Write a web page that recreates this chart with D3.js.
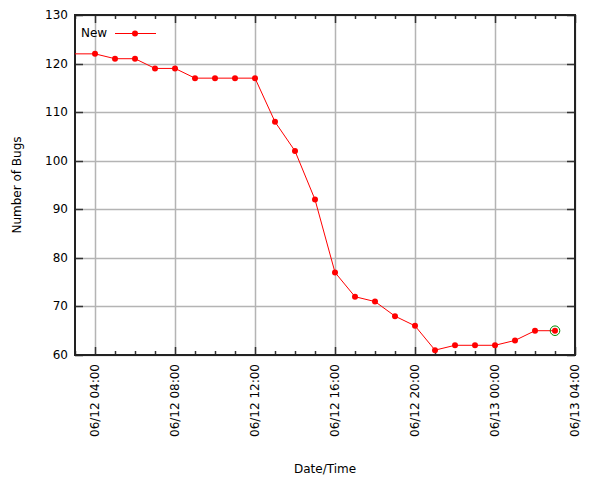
<!DOCTYPE html>
<html>
<head>
<meta charset="utf-8">
<script src="https://cdn.jsdelivr.net/npm/d3@7"></script>
<style>
  body { margin: 0; background: #fff; }
  text { font-family: "DejaVu Sans", sans-serif; font-size: 12px; fill: #000; }
</style>
</head>
<body>
<div id="chart"></div>
<script>
// data: hourly counts of "New" bugs
var times = ["06/12 02:00", "06/12 03:00", "06/12 04:00", "06/12 05:00", "06/12 06:00", "06/12 07:00",
             "06/12 08:00", "06/12 09:00", "06/12 10:00", "06/12 11:00", "06/12 12:00",
             "06/12 13:00", "06/12 14:00", "06/12 15:00", "06/12 16:00", "06/12 17:00",
             "06/12 18:00", "06/12 19:00", "06/12 20:00", "06/12 21:00", "06/12 22:00",
             "06/12 23:00", "06/13 00:00", "06/13 01:00", "06/13 02:00", "06/13 03:00"];
var newBugs = [122, 122, 122, 121, 121, 119, 119, 117, 117, 117, 117, 108, 102, 92, 77, 72,
               71, 68, 66, 61, 62, 62, 62, 63, 65, 65];
var xDomain = ["06/12 03:00", "06/13 04:00"];
var yTicks = [60, 70, 80, 90, 100, 110, 120, 130];
var seriesName = "New";

var WIDTH = 600, HEIGHT = 480;
var margin = { left: 75, right: 25, top: 15, bottom: 125 };

var parse = d3.timeParse("%m/%d %H:%M");
var fmt = d3.timeFormat("%m/%d %H:%M");

var data = times.map(function(t, i){ return { t: parse(t), v: newBugs[i] }; });

var svg = d3.select("#chart").append("svg")
    .attr("width", WIDTH)
    .attr("height", HEIGHT);

var x = d3.scaleTime()
    .domain(xDomain.map(parse))
    .range([margin.left, WIDTH - margin.right]);
var y = d3.scaleLinear()
    .domain([60, 130])
    .range([HEIGHT - margin.bottom, margin.top]);

var majorTicks = x.ticks(d3.timeHour.every(4)).filter(function(d){ return d.getHours() % 4 === 0; });
var minorTicks = x.ticks(d3.timeHour.every(1));

var x0 = x.range()[0], x1 = x.range()[1], yb = y.range()[0], yt = y.range()[1];

// grid
var grid = svg.append("g").attr("stroke", "#b4b4b4").attr("stroke-width", 1.5);
grid.selectAll(".gx").data(majorTicks).enter().append("line")
    .attr("x1", function(d){ return Math.round(x(d)) + 0.5; })
    .attr("x2", function(d){ return Math.round(x(d)) + 0.5; })
    .attr("y1", yt).attr("y2", yb);
grid.selectAll(".gy").data(yTicks).enter().append("line")
    .attr("x1", x0).attr("x2", x1)
    .attr("y1", function(d){ return Math.round(y(d)) + 0.5; })
    .attr("y2", function(d){ return Math.round(y(d)) + 0.5; });

// ticks on all four sides
var ticks = svg.append("g").attr("stroke", "#333").attr("stroke-width", 1.5);
minorTicks.forEach(function(d){
    var big = d.getHours() % 4 === 0, len = big ? 8 : 4, px = Math.round(x(d)) + 0.5;
    ticks.append("line").attr("x1", px).attr("x2", px).attr("y1", yb).attr("y2", yb - len);
    ticks.append("line").attr("x1", px).attr("x2", px).attr("y1", yt).attr("y2", yt + len);
});
yTicks.forEach(function(d){
    var py = Math.round(y(d)) + 0.5;
    ticks.append("line").attr("x1", x0).attr("x2", x0 + 8).attr("y1", py).attr("y2", py);
    ticks.append("line").attr("x1", x1).attr("x2", x1 - 8).attr("y1", py).attr("y2", py);
});

// frame
svg.append("rect")
    .attr("x", x0).attr("y", yt)
    .attr("width", x1 - x0).attr("height", yb - yt)
    .attr("fill", "none").attr("stroke", "#222").attr("stroke-width", 2);

// tick labels
svg.append("g").selectAll("text").data(yTicks).enter().append("text")
    .attr("x", x0 - 7).attr("y", function(d){ return y(d) + 4; })
    .attr("text-anchor", "end")
    .text(function(d){ return d; });

svg.append("g").selectAll("text").data(majorTicks).enter().append("text")
    .attr("transform", function(d){ return "translate(" + (x(d) + 4) + "," + (yb + 9) + ") rotate(-90)"; })
    .attr("text-anchor", "end")
    .text(function(d){ return fmt(d); });

// axis titles
svg.append("text")
    .attr("x", (x0 + x1) / 2).attr("y", 473)
    .attr("text-anchor", "middle")
    .text("Date/Time");
svg.append("text")
    .attr("transform", "translate(21," + ((yt + yb) / 2) + ") rotate(-90)")
    .attr("text-anchor", "middle")
    .text("Number of Bugs");

// series
svg.append("clipPath").attr("id", "clip").append("rect")
    .attr("x", x0).attr("y", yt).attr("width", x1 - x0).attr("height", yb - yt);

var line = d3.line()
    .x(function(d){ return x(d.t); })
    .y(function(d){ return y(d.v); });

var plot = svg.append("g").attr("clip-path", "url(#clip)");
plot.append("path")
    .datum(data)
    .attr("d", line)
    .attr("fill", "none")
    .attr("stroke", "#ff0000")
    .attr("stroke-width", 1);

plot.selectAll("circle.pt").data(data.filter(function(d){ return x(d.t) > x0; })).enter().append("circle")
    .attr("class", "pt")
    .attr("cx", function(d){ return x(d.t); })
    .attr("cy", function(d){ return y(d.v); })
    .attr("r", 3)
    .attr("fill", "#ff0000");

var last = data[data.length - 1];
svg.append("circle")
    .attr("cx", x(last.t)).attr("cy", y(last.v))
    .attr("r", 4.8)
    .attr("fill", "none")
    .attr("stroke", "#008a00")
    .attr("stroke-width", 1);

// legend
var lg = svg.append("g");
lg.append("text").attr("x", 81).attr("y", 37).text(seriesName);
lg.append("line").attr("x1", 115).attr("x2", 156).attr("y1", 33.5).attr("y2", 33.5)
    .attr("stroke", "#ff0000").attr("stroke-width", 1);
lg.append("circle").attr("cx", 135).attr("cy", 33.5).attr("r", 3).attr("fill", "#ff0000");
</script>
</body>
</html>
